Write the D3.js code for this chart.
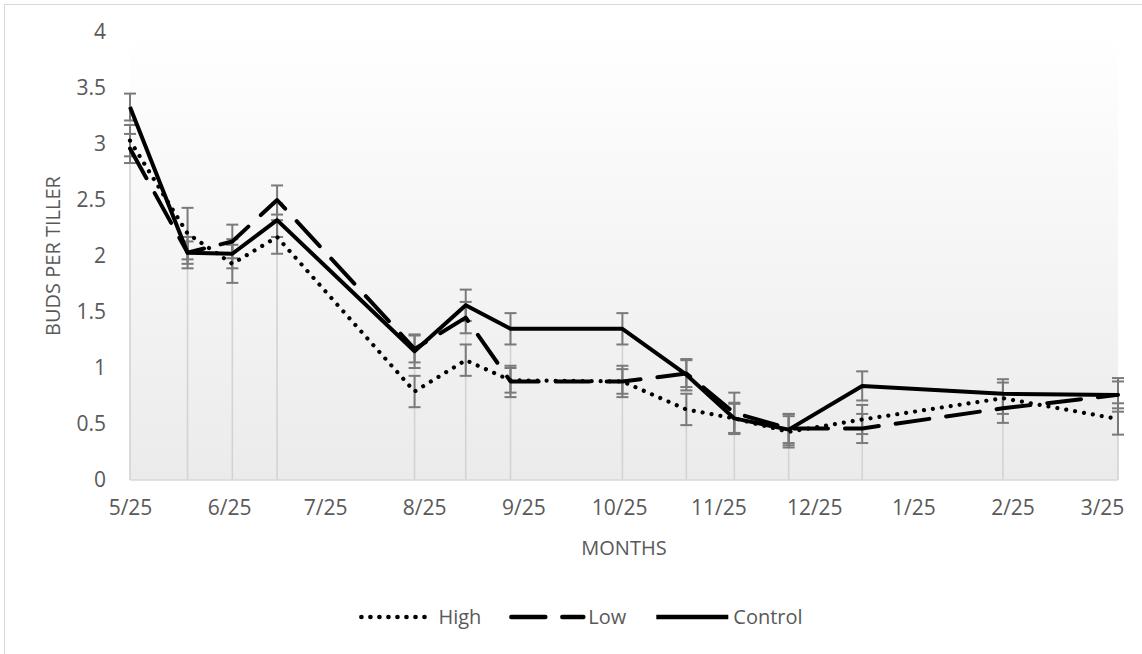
<!DOCTYPE html>
<html>
<head>
<meta charset="utf-8">
<script src="https://cdn.jsdelivr.net/npm/d3@7"></script>
<style>
  html, body { margin: 0; padding: 0; background: #ffffff; }
  svg { display: block; }
  text { font-family: "Open Sans", "Noto Sans", sans-serif; fill: #595959; }
</style>
</head>
<body>
<svg id="chart" width="1142" height="654"></svg>
<script>
// Sampling dates (roughly biweekly, May through March)
const sampleDates = ["2018-05-25", "2018-06-12", "2018-06-26", "2018-07-10", "2018-08-22",
  "2018-09-07", "2018-09-21", "2018-10-26", "2018-11-15", "2018-11-30", "2018-12-17",
  "2019-01-09", "2019-02-22", "2019-03-30"];

// Mean buds per tiller for each treatment
const highValues    = [3.03, 2.20, 1.93, 2.17, 0.79, 1.07, 0.89, 0.88, 0.63, 0.55, 0.43, 0.54, 0.73, 0.545];
const lowValues     = [2.96, 2.03, 2.13, 2.50, 1.17, 1.45, 0.88, 0.88, 0.95, 0.60, 0.46, 0.46, 0.64, 0.76];
const controlValues = [3.33, 2.03, 2.02, 2.32, 1.15, 1.56, 1.35, 1.35, 0.94, 0.55, 0.45, 0.84, 0.77, 0.76];

// Standard errors
const highErrors    = [0.14, 0.23, 0.17, 0.15, 0.14, 0.14, 0.11, 0.11, 0.14, 0.13, 0.14, 0.13, 0.14, 0.14];
const lowErrors     = [0.13, 0.10, 0.15, 0.13, 0.12, 0.14, 0.14, 0.14, 0.12, 0.18, 0.13, 0.13, 0.13, 0.12];
const controlErrors = [0.12, 0.14, 0.13, 0.15, 0.15, 0.14, 0.14, 0.14, 0.14, 0.14, 0.14, 0.13, 0.13, 0.15];

const seriesNames = ["High", "Low", "Control"];

// Axis ticks
const xTickDates = ["2018-05-25", "2018-06-25", "2018-07-25", "2018-08-25", "2018-09-25",
  "2018-10-25", "2018-11-25", "2018-12-25", "2019-01-25", "2019-02-25", "2019-03-25"];
const yTicks = [0, 0.5, 1, 1.5, 2, 2.5, 3, 3.5, 4];

const parse = d3.timeParse("%Y-%m-%d");
const dates = sampleDates.map(parse);

const seriesStyle = {
  High:    { dash: "0.01 9", cap: "round", width: 4.2 },
  Low:     { dash: "34 17", cap: "round", width: 4 },
  Control: { dash: null, cap: "butt", width: 4 }
};

const series = [
  { name: seriesNames[0], values: highValues, errors: highErrors },
  { name: seriesNames[1], values: lowValues, errors: lowErrors },
  { name: seriesNames[2], values: controlValues, errors: controlErrors }
].map(s => ({ ...s, points: dates.map((d, i) => ({ date: d, v: s.values[i], e: s.errors[i] })) }));

const svg = d3.select("#chart");
const plot = { left: 130, right: 1118, top: 32, bottom: 480 };
const fontFamily = "'Open Sans', sans-serif";

// Chart area outline
svg.append("rect")
  .attr("x", 4.5).attr("y", 4.5).attr("width", 1170).attr("height", 680)
  .attr("fill", "#ffffff").attr("stroke", "#d9d9d9").attr("stroke-width", 1);

const x = d3.scaleTime().domain([dates[0], dates[dates.length - 1]]).range([plot.left, plot.right]);
const y = d3.scaleLinear().domain([0, 4]).range([plot.bottom, plot.top]);

// Plot area gradient fill
const defs = svg.append("defs");
const grad = defs.append("linearGradient").attr("id", "plotFill")
  .attr("x1", 0).attr("y1", 0).attr("x2", 0).attr("y2", 1);
grad.append("stop").attr("offset", "0%").attr("stop-color", "#ffffff");
grad.append("stop").attr("offset", "100%").attr("stop-color", "#ebebeb");

svg.append("rect")
  .attr("x", plot.left).attr("y", plot.top)
  .attr("width", plot.right - plot.left).attr("height", plot.bottom - plot.top)
  .attr("fill", "url(#plotFill)");

// Drop lines from the highest series value to the axis
svg.append("g").selectAll("line").data(dates).join("line")
  .attr("x1", d => x(d)).attr("x2", d => x(d))
  .attr("y1", (d, i) => y(d3.max(series, s => s.values[i])))
  .attr("y2", y(0))
  .attr("stroke", "#d3d3d3").attr("stroke-width", 1.6);

// Category axis baseline
svg.append("line")
  .attr("x1", plot.left).attr("x2", plot.right)
  .attr("y1", y(0)).attr("y2", y(0))
  .attr("stroke", "#d9d9d9").attr("stroke-width", 1.5);

// Y axis labels
const yAxis = svg.append("g").attr("transform", `translate(${plot.left},0)`)
  .call(d3.axisLeft(y).tickValues(yTicks).tickSize(0).tickPadding(24).tickFormat(d => String(d)));
yAxis.select(".domain").remove();
yAxis.selectAll("text").attr("font-size", 21).attr("fill", "#595959")
  .attr("font-family", fontFamily);

// X axis labels
const xAxis = svg.append("g").attr("transform", `translate(0,${y(0)})`)
  .call(d3.axisBottom(x).tickValues(xTickDates.map(parse)).tickSize(0).tickPadding(20)
    .tickFormat(d3.timeFormat("%-m/%-d")));
xAxis.select(".domain").remove();
xAxis.selectAll("text").attr("font-size", 21).attr("fill", "#595959")
  .attr("font-family", fontFamily);

// Axis titles
svg.append("text")
  .attr("x", (plot.left + plot.right) / 2).attr("y", 555)
  .attr("text-anchor", "middle").attr("font-size", 20).text("MONTHS");

svg.append("text")
  .attr("transform", `translate(60,${(plot.top + plot.bottom) / 2}) rotate(-90)`)
  .attr("text-anchor", "middle").attr("font-size", 20).text("BUDS PER TILLER");

// Error bars
const capHalf = 6;
const errG = svg.append("g").attr("stroke", "#7a7a7a").attr("stroke-width", 2).attr("fill", "none");
series.forEach(s => {
  const g = errG.append("g");
  s.points.forEach(p => {
    const cx = x(p.date), yt = y(p.v + p.e), yb = y(p.v - p.e);
    g.append("line").attr("x1", cx).attr("x2", cx).attr("y1", yt).attr("y2", yb);
    g.append("line").attr("x1", cx - capHalf).attr("x2", cx + capHalf).attr("y1", yt).attr("y2", yt);
    g.append("line").attr("x1", cx - capHalf).attr("x2", cx + capHalf).attr("y1", yb).attr("y2", yb);
  });
});

// Series lines
const line = d3.line().x(p => x(p.date)).y(p => y(p.v));
series.forEach(s => {
  const st = seriesStyle[s.name];
  svg.append("path").datum(s.points)
    .attr("d", line)
    .attr("fill", "none").attr("stroke", "#000000")
    .attr("stroke-width", st.width)
    .attr("stroke-linecap", st.cap)
    .attr("stroke-linejoin", "round")
    .attr("stroke-dasharray", st.dash);
});

// Legend
const legend = svg.append("g");
const lineLen = 72, textGap = 5, itemGap = 30, legendY = 617;
let cursor = 0;
series.forEach(s => {
  const st = seriesStyle[s.name];
  const item = legend.append("g").attr("transform", `translate(${cursor},0)`);
  item.append("line")
    .attr("x1", 0).attr("x2", lineLen).attr("y1", legendY).attr("y2", legendY)
    .attr("stroke", "#000000").attr("stroke-width", st.width + 0.5)
    .attr("stroke-linecap", st.cap).attr("stroke-dasharray", st.dash);
  const t = item.append("text")
    .attr("x", lineLen + textGap).attr("y", legendY).attr("dy", "0.35em")
    .attr("font-size", 20).text(s.name);
  cursor += lineLen + textGap + t.node().getComputedTextLength() + itemGap;
});
const legendWidth = cursor - itemGap;
legend.attr("transform", `translate(${582 - legendWidth / 2},0)`);
</script>
</body>
</html>
